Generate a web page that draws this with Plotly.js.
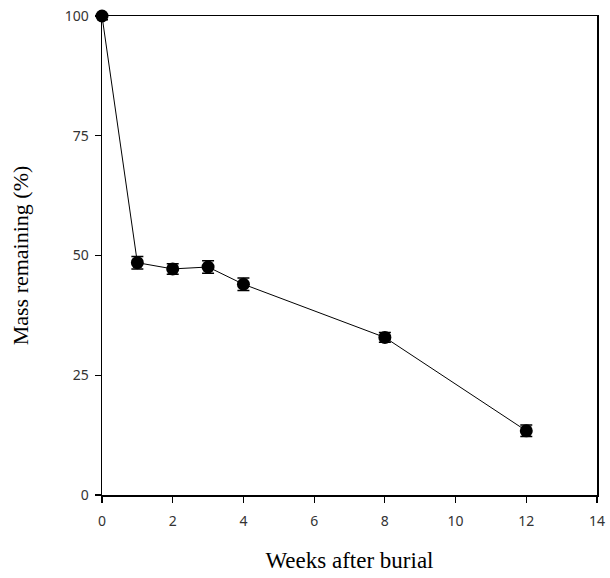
<!DOCTYPE html>
<html>
<head>
<meta charset="utf-8">
<script src="https://cdn.plot.ly/plotly-3.0.1.min.js"></script>
<style>html,body{margin:0;padding:0;background:#fff;}#chart{width:610px;height:578px;}</style>
</head>
<body>
<div id="chart"></div>
<script>
const weeks = [0, 1, 2, 3, 4, 8, 12];
const massRemaining = [100, 48.5, 47.2, 47.6, 44.0, 32.9, 13.4];
const errors = [0.8, 1.3, 1.1, 1.3, 1.3, 1.0, 1.2];
const xTicks = [0, 2, 4, 6, 8, 10, 12, 14];
const yTicks = [0, 25, 50, 75, 100];

const trace = {
  x: weeks,
  y: massRemaining,
  type: 'scatter',
  mode: 'lines+markers',
  line: {color: '#000', width: 1},
  marker: {color: '#000', size: 13, symbol: 'circle'},
  error_y: {type: 'data', array: errors, visible: true, color: '#000', thickness: 1.5, width: 6},
  cliponaxis: false
};

const tickFont = {family: 'Noto Sans, Liberation Sans, sans-serif', size: 14, color: '#333'};

const layout = {
  width: 610, height: 578,
  margin: {l: 102, r: 13, t: 16, b: 83},
  paper_bgcolor: '#fff', plot_bgcolor: '#fff',
  showlegend: false,
  xaxis: {
    range: [0, 14], tickvals: xTicks, ticktext: xTicks.map(String),
    showgrid: false, zeroline: false, showline: true, mirror: true,
    linecolor: '#000', linewidth: 1.5, ticks: 'outside', ticklen: 6, tickwidth: 1.2, tickcolor: '#000',
    ticklabelstandoff: 7,
    tickfont: tickFont,
    title: {text: 'Weeks after burial', font: {family: 'Liberation Serif, Times New Roman, serif', size: 23, color: '#000'}, standoff: 22}
  },
  yaxis: {
    range: [0, 100], tickvals: yTicks, ticktext: yTicks.map(String),
    showgrid: false, zeroline: false, showline: true, mirror: true,
    linecolor: '#000', linewidth: 1.5, ticks: 'outside', ticklen: 6, tickwidth: 1.2, tickcolor: '#000',
    ticklabelstandoff: 3,
    tickfont: tickFont,
    title: {text: 'Mass remaining (%)', font: {family: 'Liberation Serif, Times New Roman, serif', size: 22, color: '#000'}, standoff: 30}
  }
};

Plotly.newPlot('chart', [trace], layout, {displayModeBar: false, staticPlot: true});
</script>
</body>
</html>
